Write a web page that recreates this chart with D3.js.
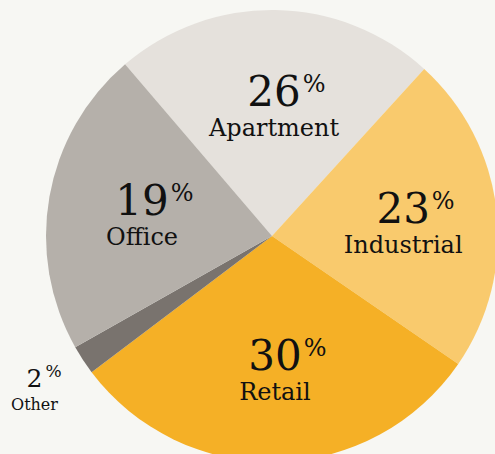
<!DOCTYPE html>
<html>
<head>
<meta charset="utf-8">
<script src="https://cdn.jsdelivr.net/npm/d3@7"></script>
<style>
    body { margin: 0; background: #f7f7f3; }
    svg { display: block; }
    text { font-family: "DejaVu Serif", "Liberation Serif", serif; fill: #111; }
</style>
</head>
<body>
<svg id="pie" width="495" height="454"></svg>
<script>
// sectors clockwise from the Apartment slice
var categories = ["Apartment", "Industrial", "Retail", "Other", "Office"];
// slice sizes as drawn (share of the circle, %)
var shares = [23.0, 22.8, 30.1, 2.1, 21.9];
// printed percentages
var pctLabels = ["26", "23", "30", "2", "19"];
var colors = ["#e5e1dc", "#f9ca6d", "#f5b026", "#79736e", "#b5b0aa"];

function drawPie(svg) {
    var cx = 272,
        cy = 236,
        radius = 226;

    var data = categories.map(function(c, i) {
        return { name : c, share : shares[i], pct : pctLabels[i], color : colors[i] };
    });

    var start = -40.55 * Math.PI / 180;
    var pie = d3.pie()
        .sort(null)
        .value(function(d) { return d.share; })
        .startAngle(start)
        .endAngle(start + 2 * Math.PI);

    var arc = d3.arc().innerRadius(0).outerRadius(radius);
    var labelArc = d3.arc().innerRadius(132).outerRadius(132);
    var outerArc = d3.arc().innerRadius(284).outerRadius(284);

    var g = svg.append("g")
        .attr("transform", "translate(" + cx + "," + cy + ")");

    var arcs = pie(data);

    g.selectAll(".slice")
        .data(arcs)
        .enter().append("path")
        .attr("class", "slice")
        .attr("d", arc)
        .attr("fill", function(d) { return d.data.color; });

    var labels = g.selectAll(".label")
        .data(arcs)
        .enter().append("g")
        .attr("class", "label")
        .attr("transform", function(d) {
            var small = d.data.share < 5;
            var c = small ? outerArc.centroid(d) : labelArc.centroid(d);
            return "translate(" + c[0] + "," + c[1] + ")";
        });

    labels.each(function(d) {
        var sel = d3.select(this);
        var small = d.data.share < 5;
        var numSize = small ? 25 : 42,
            pctSize = small ? 17 : 24,
            nameSize = small ? 16 : 24;
        var numY = small ? -5 : 2,
            nameY = small ? 18 : 32;

        var num = sel.append("text")
            .attr("text-anchor", "middle")
            .attr("y", numY)
            .style("font-size", numSize + "px")
            .text(d.data.pct);

        var w = num.node().getComputedTextLength();
        sel.append("text")
            .attr("x", w / 2 + (small ? 3 : 2))
            .attr("y", numY - (small ? 10 : 14))
            .style("font-size", pctSize + "px")
            .text("%");

        sel.append("text")
            .attr("text-anchor", "middle")
            .attr("y", nameY)
            .style("font-size", nameSize + "px")
            .text(d.data.name);
    });
}

drawPie(d3.select("#pie"));
</script>
</body>
</html>
